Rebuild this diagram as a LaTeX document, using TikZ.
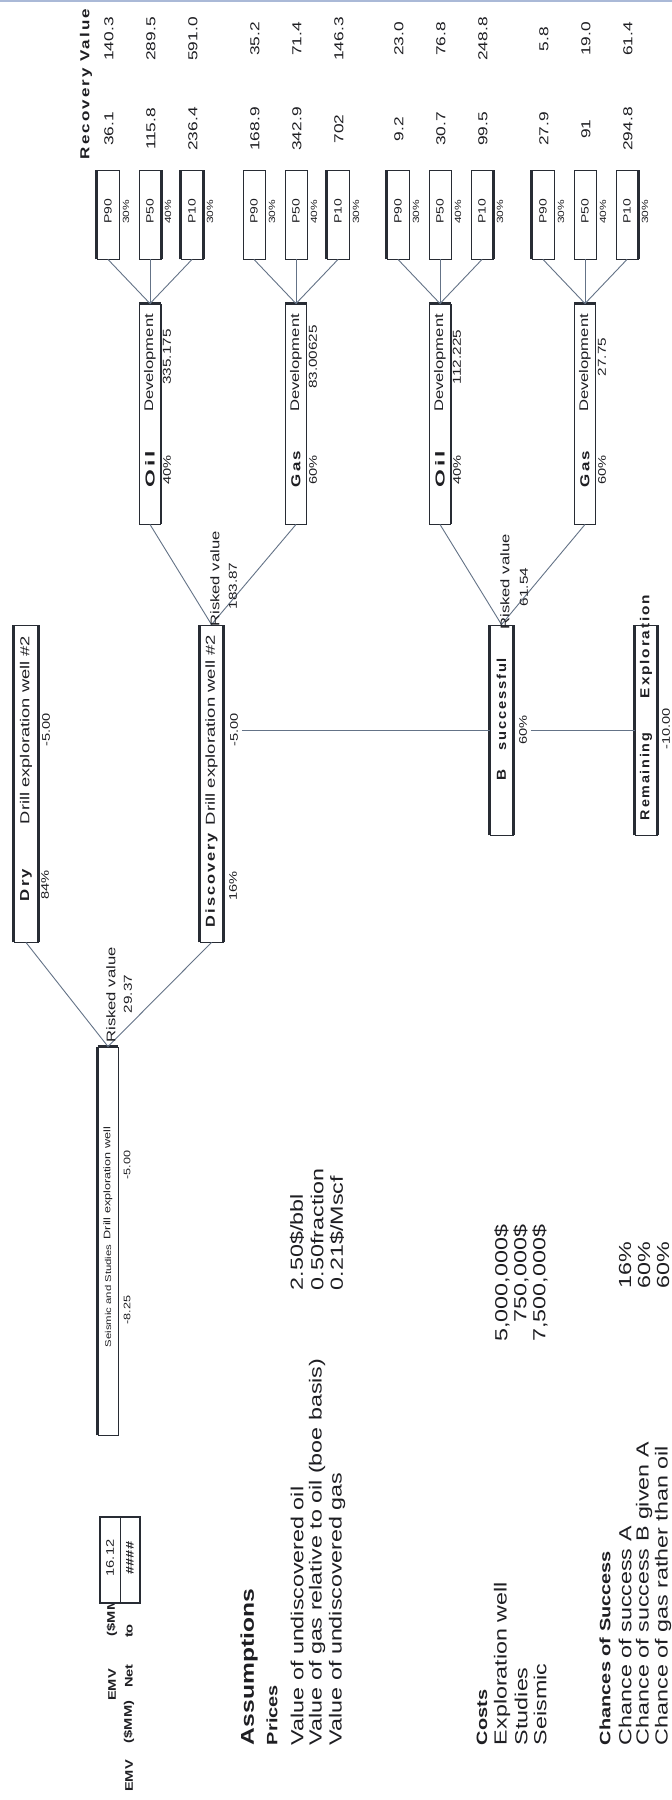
\documentclass[tikz,border=0pt]{standalone}
\usepackage{fontspec}
\setmainfont{Liberation Sans}
\usepackage{graphicx}
\definecolor{boxc}{RGB}{40,44,52}
\definecolor{linec}{RGB}{100,115,135}
\definecolor{txt}{RGB}{30,30,34}
\definecolor{topline}{RGB}{170,185,215}
\newcommand{\sx}[1]{\scalebox{1.33}[1]{#1}}
\newcommand{\fw}[2]{\resizebox{#1}{\height}{#2}}
\newcommand{\fs}[1]{\fontsize{#1}{#1}\selectfont}
\newcommand{\bsp}[2]{\fw{#1}{\addfontfeatures{LetterSpace=12}\bfseries #2}}
\newcommand{\tb}[5]{\node[bx,minimum width=#4pt,minimum height=#5pt] (#1) at (#2,#3) {};}
\newcommand{\thL}[1]{\draw[thk] (#1.north west) -- (#1.north east);}
\newcommand{\thR}[1]{\draw[thk] (#1.south west) -- (#1.south east);}
\newcommand{\thT}[1]{\draw[thk] (#1.north east) -- (#1.south east);}
\begin{document}
\begin{tikzpicture}[x=1pt,y=-1pt,
  rt/.style={rotate=90,inner sep=0pt,outer sep=0pt,text=txt},
  bx/.style={rotate=90,draw=boxc,line width=0.9pt,fill=white,inner sep=0pt},
  conn/.style={draw=linec,line width=0.9pt},
  thk/.style={draw=boxc,line width=2.6pt},
  sm/.style={rt,font=\fs{11}},
  md/.style={rt,font=\fs{12.5}},
  big/.style={rt,font=\fs{17.5}},
  hd/.style={rt,font=\fs{15}\bfseries},
]
\useasboundingbox (0,0) rectangle (672,1800);
\fill[white] (0,0) rectangle (672,1800);
\draw[topline,line width=2pt] (0,1) -- (672,1);

% ---------- tree boxes
\tb{root}{108}{1241}{388}{20}
\tb{dry}{26}{783.5}{317}{24}
\tb{disc}{211.5}{783.5}{317}{23}
\tb{bs}{501.5}{730}{210}{23}
\tb{rem}{646}{730}{210}{22}
\tb{dev1}{150}{414}{220}{21}
\tb{dev2}{296}{414}{220}{21}
\tb{dev3}{440}{414}{220}{21}
\tb{dev4}{585}{414}{220}{21}
\thL{root}\thT{root}
\thL{dry}\thR{dry}
\thL{disc}\thR{disc}
\thL{bs}\thR{bs}
\thL{rem}\thR{rem}
\thR{dev1}\thR{dev3}
\thT{dev1}\thT{dev2}\thT{dev3}\thT{dev4}

% ---------- P boxes, labels and recovery values
\foreach \px/\lab/\pr/\o/\i [count=\k] in {
  108/P90/30/140.3/36.1, 150/P50/40/289.5/115.8, 192/P10/30/591.0/236.4,
  254/P90/30/35.2/168.9, 296/P50/40/71.4/342.9, 338/P10/30/146.3/702,
  398/P90/30/23.0/9.2, 440/P50/40/76.8/30.7, 482/P10/30/248.8/99.5,
  543/P90/30/5.8/27.9, 585/P50/40/19.0/91, 627/P10/30/61.4/294.8}{
  \node[bx,minimum width=89pt,minimum height=22pt] (p\k) at (\px,214.5) {};
  \node[rt,font=\fs{10.5}] (pl\k) at (\px,211) {\sx{\lab}};
  \node[rt,font=\fs{9}] (pp\k) at (\px+18,212) {\sx{\pr\%}};
  \node[rt,font=\fs{13}] (vo\k) at (\px+1,39) {\sx{\o}};
  \node[rt,font=\fs{13}] (vi\k) at (\px+1,129) {\sx{\i}};
}
\thL{p1}\thR{p2}\thL{p3}\thR{p3}\thL{p6}\thL{p7}\thR{p9}\thL{p10}\thR{p12}
\node[rt,font=\fs{13}] (rvh) at (86,84) {\bsp{150pt}{Recovery Value}};

% ---------- connectors
\draw[conn] (root.east) -- (dry.west);
\draw[conn] (root.east) -- (disc.west);
\draw[conn] (disc.east) -- (dev1.west);
\draw[conn] (disc.east) -- (dev2.west);
\draw[conn] (bs.east) -- (dev3.west);
\draw[conn] (bs.east) -- (dev4.west);
\foreach \d/\a in {1/1,1/2,1/3,2/4,2/5,2/6,3/7,3/8,3/9,4/10,4/11,4/12}{
  \draw[conn] (dev\d.east) -- (p\a.west);
}

% ---------- root texts
\node[rt,font=\fs{9.5}] (rootN) at (108,1183) {\sx{Drill exploration well}};
\node[rt,font=\fs{9.5}] (rootNv) at (127,1165) {\sx{-5.00}};
\node[rt,font=\fs{8.5}] (rootS) at (108,1296) {\sx{Seismic and Studies}};
\node[rt,font=\fs{9.5}] (rootSv) at (127,1310) {\sx{-8.25}};
\node[md] (rootRV) at (111,995) {\sx{Risked value}};
\node[rt,font=\fs{11.5}] (rootRVv) at (128,994) {\sx{29.37}};

% ---------- dry
\node[rt,font=\fs{13}] (dryL) at (26,885) {\bsp{32pt}{Dry}};
\node[sm] (dryP) at (45,885) {\sx{84\%}};
\node[rt,font=\fs{13}] (dryN) at (26,730) {\fw{188pt}{Drill exploration well \#2}};
\node[sm] (dryV) at (46,730) {\sx{-5.00}};

% ---------- discovery
\node[rt,font=\fs{13}] (discL) at (211.5,880) {\bsp{94pt}{Discovery}};
\node[sm] (discP) at (233,886) {\sx{16\%}};
\node[rt,font=\fs{13}] (discN) at (211.5,730) {\fw{190pt}{Drill exploration well \#2}};
\node[sm] (discV) at (234,730) {\sx{-5.00}};
\node[md] (discRV) at (215,579) {\sx{Risked value}};
\node[rt,font=\fs{11.5}] (discRVv) at (233,586) {\sx{183.87}};

% ---------- B successful
\node[rt,font=\fs{13}] (bsB) at (501.5,775) {\bsp{11pt}{B}};
\node[rt,font=\fs{13}] (bsS) at (501.5,704) {\bsp{92pt}{successful}};
\node[sm] (bsP) at (523,730) {\sx{60\%}};
\node[md] (bsRV) at (505,582) {\sx{Risked value}};
\node[rt,font=\fs{11.5}] (bsRVv) at (524,587) {\sx{61.54}};
\draw[conn] ([xshift=4pt]discV.south) -- (bs.north);
\draw[conn] ([xshift=4pt]bsP.south) -- (rem.north);

% ---------- remaining exploration
\node[rt,font=\fs{13}] (remA) at (646,776.5) {\bsp{87pt}{Remaining}};
\node[rt,font=\fs{13}] (remB) at (646,646.5) {\bsp{103pt}{Exploration}};
\node[sm] (remV) at (666,729) {\sx{-10.00}};

% ---------- development boxes
\foreach \cx/\lab/\pr/\val [count=\k] in {150/Oil/40/335.175, 296/Gas/60/83.00625, 440/Oil/40/112.225, 585/Gas/60/27.75}{
  \node[rt,font=\fs{13}] (dl\k) at (\cx,469) {\bsp{36pt}{\lab}};
  \node[sm] (dp\k) at (\cx+17,470) {\sx{\pr\%}};
  \node[md] (dn\k) at (\cx,363) {\sx{Development}};
  \node[rt,font=\fs{11.5}] (dv\k) at (\cx+17,357) {\sx{\val}};
}

% ---------- EMV block
\node[rt,font=\fs{11}\bfseries] (emv1a) at (112,1685) {\sx{EMV}};
\node[rt,font=\fs{11}\bfseries] (emv1b) at (112,1615) {\sx{(\$MM)}};
\node[rt,font=\fs{11}\bfseries] (emv2a) at (129,1776) {\sx{EMV}};
\node[rt,font=\fs{11}\bfseries] (emv2b) at (129,1722) {\sx{(\$MM)}};
\node[rt,font=\fs{11}\bfseries] (emv2c) at (129,1676) {\sx{Net}};
\node[rt,font=\fs{11}\bfseries] (emv2d) at (129,1631) {\sx{to}};
\node[bx,minimum width=86pt,minimum height=40pt,line width=1.8pt] (emvbox) at (120,1560) {};
\draw[boxc,line width=0.8pt] (emvbox.east) -- (emvbox.west);
\node[sm] (emvv) at (110,1558) {\sx{16.12}};
\node[rt,font=\fs{11}\bfseries] (emvh) at (130,1558) {\sx{\#\#\#\#}};

% ---------- assumptions
\node[rt,font=\fs{18.5}\bfseries,anchor=west] (asm) at (249,1745) {\sx{Assumptions}};
\node[hd,anchor=west] (prices) at (272,1745) {\sx{Prices}};
\node[big,anchor=west] (pr1) at (297,1745) {\sx{Value of undiscovered oil}};
\node[big,anchor=west] (pr2) at (317,1745) {\sx{Value of gas relative to oil (boe basis)}};
\node[big,anchor=west] (pr3) at (337,1745) {\sx{Value of undiscovered gas}};
\node[big,anchor=west] (pv1) at (297,1290) {\sx{2.50\$/bbl}};
\node[big,anchor=west] (pv2) at (317,1290) {\sx{0.50fraction}};
\node[big,anchor=west] (pv3) at (337,1290) {\sx{0.21\$/Mscf}};

\node[hd,anchor=west] (costs) at (482,1745) {\sx{Costs}};
\node[big,anchor=west] (c1) at (502,1745) {\sx{Exploration well}};
\node[big,anchor=west] (c2) at (521,1745) {\sx{Studies}};
\node[big,anchor=west] (c3) at (540,1745) {\sx{Seismic}};
\node[big,anchor=east] (cv1) at (502,1225) {\sx{5,000,000\$}};
\node[big,anchor=east] (cv2) at (521,1225) {\sx{750,000\$}};
\node[big,anchor=east] (cv3) at (540,1225) {\sx{7,500,000\$}};

\node[hd,anchor=west] (chs) at (605,1745) {\sx{Chances of Success}};
\node[big,anchor=west] (ch1) at (625,1745) {\sx{Chance of success A}};
\node[big,anchor=west] (ch2) at (644,1745) {\sx{Chance of success B given A}};
\node[big,anchor=west] (ch3) at (663,1745) {\sx{Chance of gas rather than oil}};
\node[big,anchor=east] (chv1) at (625,1242) {\sx{16\%}};
\node[big,anchor=east] (chv2) at (644,1242) {\sx{60\%}};
\node[big,anchor=east] (chv3) at (663,1242) {\sx{60\%}};
\end{tikzpicture}
\end{document}
